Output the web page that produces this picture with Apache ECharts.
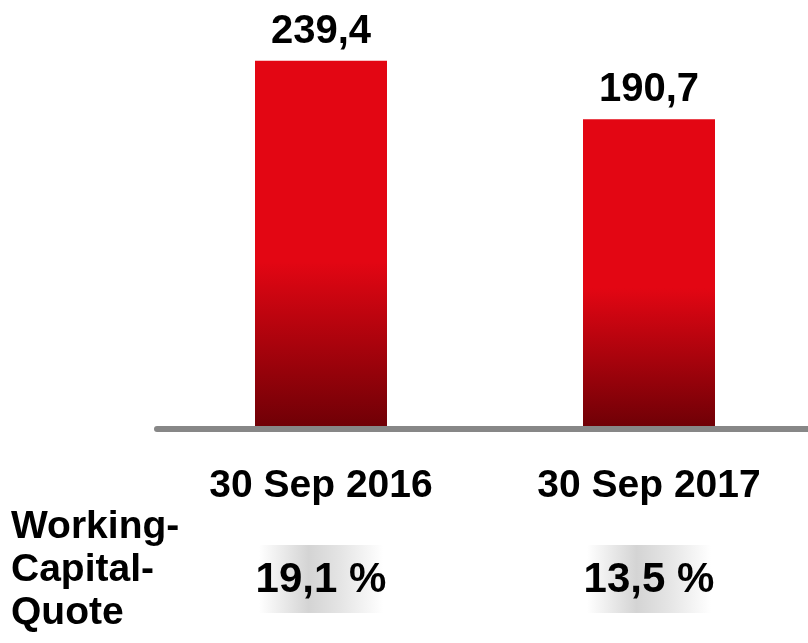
<!DOCTYPE html>
<html>
<head>
<meta charset="utf-8">
<script src="https://cdn.jsdelivr.net/npm/echarts@6/dist/echarts.min.js"></script>
<style>
  html, body { margin: 0; padding: 0; background: #fff; }
  #chart { width: 808px; height: 643px; }
</style>
</head>
<body>
<div id="chart"></div>
<script>
// Working Capital, Stichtage
const categories = ['30 Sep 2016', '30 Sep 2017'];
const values = [239.4, 190.7];
const valueLabels = ['239,4', '190,7'];
const quoteLabels = ['19,1 %', '13,5 %'];
const quoteTitle = 'Working-\nCapital-\nQuote';

const FONT = '"Liberation Sans", Arial, sans-serif';

const chart = echarts.init(document.getElementById('chart'), null, { renderer: 'canvas' });

const barGradient = new echarts.graphic.LinearGradient(0, 0, 0, 1, [
  { offset: 0, color: '#e30613' },
  { offset: 0.55, color: '#e30613' },
  { offset: 1, color: '#700006' },
]);

chart.setOption({
  backgroundColor: '#fff',
  animation: false,
  grid: { left: 157, right: -5, top: 36, bottom: 217, outerBoundsMode: 'none' },
  xAxis: [{
    type: 'category',
    data: categories,
    offset: 3,
    axisLine: { onZero: false, lineStyle: { color: '#878787', width: 6 } },
    axisTick: { show: false },
    axisLabel: {
      interval: 0,
      hideOverlap: false,
      margin: 38,
      color: '#000',
      fontFamily: FONT,
      fontWeight: 'bold',
      fontSize: 39,
    },
  }, {
    type: 'category',
    data: quoteLabels,
    position: 'bottom',
    offset: 3,
    axisLine: { show: false, onZero: false },
    axisTick: { show: false },
    axisLabel: {
      interval: 0,
      hideOverlap: false,
      margin: 130,
      color: '#000',
      fontFamily: FONT,
      fontWeight: 'bold',
      fontSize: 42,
    },
  }],
  yAxis: {
    type: 'value',
    min: -65,
    max: 260,
    startValue: -65,
    show: false,
    splitLine: { show: false },
  },
  series: [{
    type: 'bar',
    data: values,
    barWidth: 132,
    itemStyle: { color: barGradient },
    label: {
      show: true,
      position: 'top',
      distance: 9,
      formatter: (p) => valueLabels[p.dataIndex],
      color: '#000',
      fontFamily: FONT,
      fontWeight: 'bold',
      fontSize: 40,
    },
  }],
});

// grey shading behind the quote values, placed on the category centres
const boxes = categories.map((c) => {
  const cx = chart.convertToPixel({ xAxisIndex: 0 }, c);
  return {
    type: 'rect',
    z: -1,
    shape: { x: cx - 62, y: 545, width: 124, height: 68 },
    style: {
      fill: new echarts.graphic.LinearGradient(0, 0, 1, 0, [
        { offset: 0, color: '#ffffff' },
        { offset: 0.4, color: '#d4d4d4' },
        { offset: 0.65, color: '#e4e4e4' },
        { offset: 1, color: '#ffffff' },
      ]),
    },
  };
});

chart.setOption({
  graphic: [
    ...boxes,
    {
      type: 'text',
      left: 11,
      top: 506,
      style: {
        text: quoteTitle,
        fill: '#000',
        font: 'bold 39px ' + FONT,
        lineHeight: 43,
      },
    },
  ],
});

window.addEventListener('resize', () => chart.resize());
</script>
</body>
</html>
